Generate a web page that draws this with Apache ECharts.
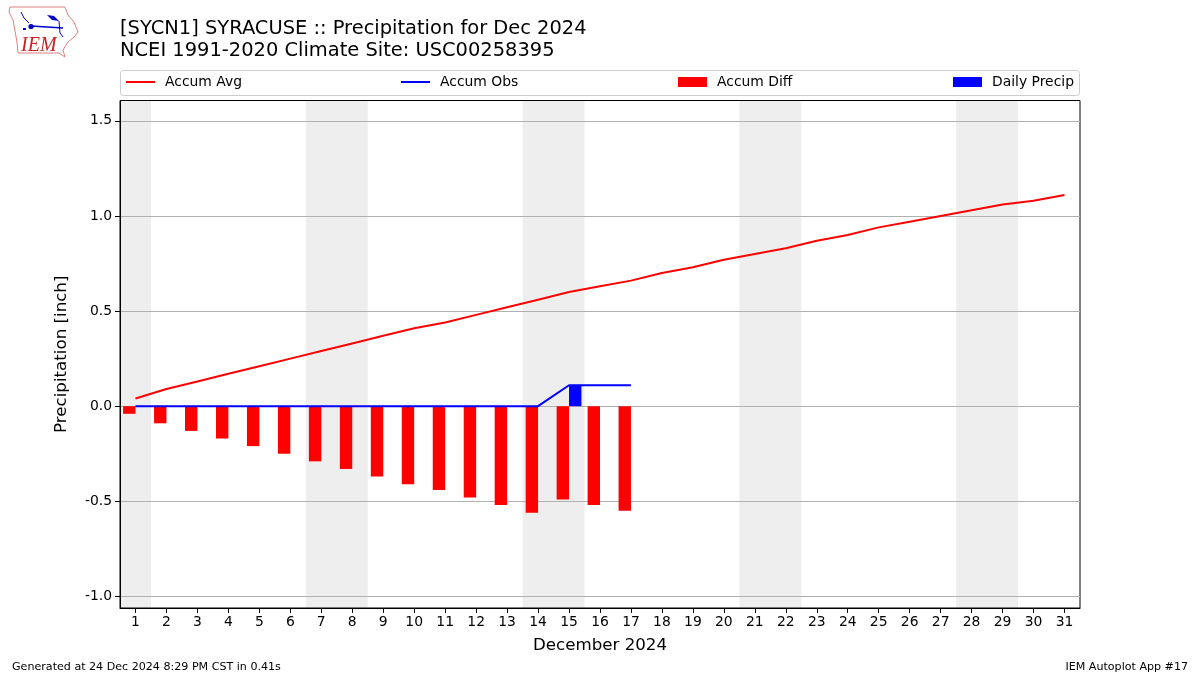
<!DOCTYPE html>
<html>
<head>
<meta charset="utf-8">
<style>html,body{margin:0;padding:0;background:#fff}#c{width:1200px;height:675px}</style>
<script src="https://cdn.jsdelivr.net/npm/echarts@6/dist/echarts.min.js"></script>
</head>
<body>
<div id="c"></div>
<script>
const days = ['1','2','3','4','5','6','7','8','9','10','11','12','13','14','15','16','17','18','19','20','21','22','23','24','25','26','27','28','29','30','31'];
const accumAvg = [0.04,0.09,0.13,0.17,0.21,0.25,0.29,0.33,0.37,0.41,0.44,0.48,0.52,0.56,0.60,0.63,0.66,0.70,0.73,0.77,0.80,0.83,0.87,0.90,0.94,0.97,1.00,1.03,1.06,1.08,1.11];
const accumObs = [0,0,0,0,0,0,0,0,0,0,0,0,0,0,0.11,0.11,0.11];
const accumDiff = [-0.04,-0.09,-0.13,-0.17,-0.21,-0.25,-0.29,-0.33,-0.37,-0.41,-0.44,-0.48,-0.52,-0.56,-0.49,-0.52,-0.55];
const dailyPrecip = [0,0,0,0,0,0,0,0,0,0,0,0,0,0,0.11,0,0];
const weekendSpans = [[0.5,1.5],[6.5,8.5],[13.5,15.5],[20.5,22.5],[27.5,29.5]];
const yTicks = [-1.0,-0.5,0,0.5,1.0,1.5];
const titleLines = ['[SYCN1] SYRACUSE :: Precipitation for Dec 2024','NCEI 1991-2020 Climate Site: USC00258395'];

const FONT = '"DejaVu Sans"';
const chart = echarts.init(document.getElementById('c'), null, {renderer:'canvas'});
function legend(name, left, h){
  return {show:true, data:[{name:name,icon:'rect'}], left:left, top:75, itemWidth:29, itemHeight:h, itemGap:0,
    padding:0, textStyle:{fontFamily:FONT,fontSize:13.9,color:'#000',padding:[0,0,0,5]}, selectedMode:false};
}
chart.setOption({
  animation:false,
  backgroundColor:'#fff',
  title:{text:titleLines.join('\n'), left:120, top:18, padding:0,
    textStyle:{fontFamily:FONT,fontSize:19.44,fontWeight:'normal',color:'#000',lineHeight:22}},
  legend:[legend('Accum Avg',126,2),legend('Accum Obs',401,2),legend('Accum Diff',678,10),legend('Daily Precip',953,10)],
  grid:{left:120,right:120,top:100.5,bottom:67,show:true,borderColor:'#000',borderWidth:1,backgroundColor:'transparent'},
  xAxis:[
    {type:'category',data:days,boundaryGap:true,name:'December 2024',nameLocation:'middle',nameGap:29,
     nameTextStyle:{fontFamily:FONT,fontSize:16.67,color:'#000'},
     axisLine:{show:true,onZero:false,lineStyle:{color:'#000'}},
     axisTick:{show:true,alignWithLabel:true,length:5,lineStyle:{color:'#000'}},
     axisLabel:{show:true,interval:0,fontFamily:FONT,fontSize:13.9,color:'#000',margin:7},
     splitLine:{show:false}},
    {type:'value',min:0.5,max:31.5,show:false,splitLine:{show:false}}
  ],
  yAxis:{type:'value',min:-1.061,max:1.607,name:'Precipitation [inch]',nameLocation:'middle',nameGap:50,
    nameTextStyle:{fontFamily:FONT,fontSize:16.67,color:'#000'},
    axisLine:{show:true,onZero:false,lineStyle:{color:'#000'}},
    axisTick:{show:true,length:5,lineStyle:{color:'#000'},customValues:yTicks},
    axisLabel:{fontFamily:FONT,fontSize:13.9,color:'#000',margin:8,padding:[2,0,0,0],customValues:yTicks,formatter:v=>v.toFixed(1)},
    splitLine:{show:true,lineStyle:{color:'#b0b0b0',width:1}}},
  series:[
    {name:'Weekend',type:'line',xAxisIndex:1,data:[],z:-1,silent:true,
     markArea:{silent:true,z:-1,itemStyle:{color:'rgba(128,128,128,0.133)'},
       data:weekendSpans.map(s=>[{xAxis:s[0]},{xAxis:s[1]}])}},
    {name:'Accum Diff',type:'bar',data:accumDiff,barWidth:12.4,barGap:0,itemStyle:{color:'#ff0000'},z:2},
    {name:'Daily Precip',type:'bar',data:dailyPrecip,barWidth:12.4,barGap:0,itemStyle:{color:'#0000ff'},z:2},
    {name:'Accum Avg',type:'line',data:accumAvg,symbol:'none',lineStyle:{color:'#ff0000',width:2},itemStyle:{color:'#ff0000'},z:3},
    {name:'Accum Obs',type:'line',data:accumObs,symbol:'none',lineStyle:{color:'#0000ff',width:2},itemStyle:{color:'#0000ff'},z:4}
  ],
  graphic:[
    {type:'rect',z:-5,shape:{x:120.5,y:70.5,width:959,height:25,r:3},style:{fill:'#fff',stroke:'#cccccc',lineWidth:1}},
    {type:'text',left:12,top:662,style:{text:'Generated at 24 Dec 2024 8:29 PM CST in 0.41s',font:'11.1px '+FONT,fill:'#000'}},
    {type:'text',right:12,top:662,style:{text:'IEM Autoplot App #17',font:'11.1px '+FONT,fill:'#000'}},
    {type:'polyline',shape:{points:[[10,7],[65,7],[68,15],[74,22],[78,32],[74,37],[68,42],[63,50],[65,57],[59,53],[18,53],[17,42],[13,20],[9,12],[10,7]]},style:{fill:'none',stroke:'#e08080',lineWidth:1}},
    {type:'polyline',shape:{points:[[31,26],[63,28]]},style:{fill:'none',stroke:'#0000cc',lineWidth:1.6}},
    {type:'circle',shape:{cx:31,cy:26.5,r:2.6},style:{fill:'#0000cc'}},
    {type:'polygon',shape:{points:[[47,15],[54,16],[59,21],[52,20]]},style:{fill:'#0000cc'}},
    {type:'polyline',shape:{points:[[21,12],[24,18],[29,23]]},style:{fill:'none',stroke:'#0000cc',lineWidth:1}},
    {type:'polyline',shape:{points:[[59,21],[60,33],[63,37]]},style:{fill:'none',stroke:'#0000cc',lineWidth:1}},
    {type:'polyline',shape:{points:[[23,29],[26,29]]},style:{fill:'none',stroke:'#0000cc',lineWidth:2}},
    {type:'text',left:21,top:36,style:{text:'IEM',font:'italic 20px "Liberation Serif"',fill:'#cc2222'}}
  ]
});
</script>
</body>
</html>
